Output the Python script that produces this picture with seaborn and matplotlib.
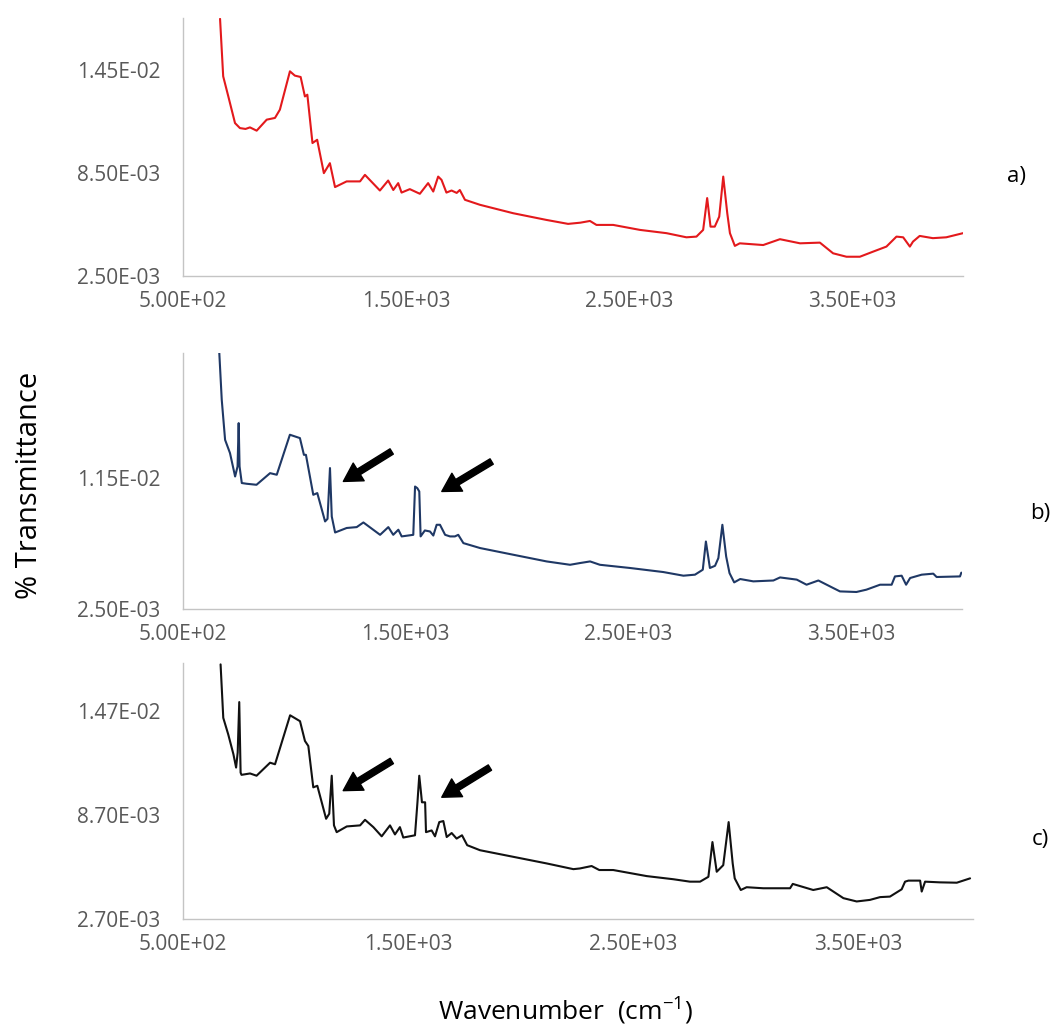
import numpy as np
import pandas as pd
import matplotlib
matplotlib.use("Agg")
import matplotlib.pyplot as plt
import seaborn as sns
from matplotlib.ticker import FixedLocator, FuncFormatter

# ---------------- data ----------------
wn_a = [666, 680, 703, 733, 755, 780, 800, 830, 875, 912, 934, 979, 1001, 1027, 1046, 1057,
        1080, 1101, 1131, 1158, 1181, 1233, 1293, 1315, 1382, 1419, 1442, 1464, 1479, 1516,
        1561, 1598, 1621, 1643, 1658, 1680, 1703, 1726, 1740, 1763, 1830, 1979, 2128, 2225,
        2280, 2323, 2352, 2427, 2547, 2666, 2755, 2800, 2830, 2848, 2863, 2882, 2902, 2920,
        2938, 2950, 2972, 2994, 3099, 3174, 3264, 3353, 3412, 3472, 3532, 3592, 3651, 3696,
        3726, 3756, 3770, 3800, 3859, 3919, 3994]
tr_a = [0.01745, 0.01411, 0.01294, 0.01139, 0.01110, 0.01105, 0.01114, 0.01095, 0.01159, 0.01169,
        0.01217, 0.01440, 0.01415, 0.01407, 0.01294, 0.01304, 0.01023, 0.01042, 0.00848, 0.00906,
        0.00767, 0.00800, 0.00800, 0.00838, 0.00747, 0.00805, 0.00750, 0.00790, 0.00735, 0.00755,
        0.00728, 0.00790, 0.00741, 0.00828, 0.00809, 0.00735, 0.00747, 0.00733, 0.00750, 0.00693,
        0.00664, 0.00615, 0.00576, 0.00553, 0.00560, 0.00570, 0.00547, 0.00547, 0.00518, 0.00499,
        0.00475, 0.00479, 0.00518, 0.00703, 0.00537, 0.00537, 0.00595, 0.00828, 0.00615, 0.00499,
        0.00425, 0.00440, 0.00430, 0.00464, 0.00440, 0.00444, 0.00382, 0.00362, 0.00362, 0.00392,
        0.00421, 0.00479, 0.00475, 0.00421, 0.00450, 0.00483, 0.00470, 0.00475, 0.00499]

wn_b = [663, 674, 689, 711, 734, 745, 750, 754, 764, 786, 830, 891, 921, 980, 1025, 1043, 1052,
        1085, 1103, 1138, 1149, 1160, 1168, 1183, 1235, 1280, 1310, 1385, 1422, 1444, 1467, 1482,
        1534, 1542, 1552, 1561, 1567, 1586, 1609, 1624, 1639, 1654, 1677, 1699, 1721, 1736, 1759,
        1834, 1983, 2133, 2238, 2283, 2328, 2372, 2507, 2657, 2747, 2799, 2834, 2848, 2866, 2889,
        2904, 2922, 2939, 2954, 2975, 3002, 3061, 3151, 3181, 3256, 3300, 3353, 3420, 3450, 3524,
        3569, 3630, 3682, 3697, 3727, 3747, 3765, 3817, 3869, 3884, 3989, 3995]
tr_b = [0.0201, 0.01688, 0.01413, 0.01322, 0.01161, 0.01230, 0.01528, 0.01230, 0.01116, 0.01111,
        0.01104, 0.01184, 0.01173, 0.01448, 0.01425, 0.01310, 0.01310, 0.01035, 0.01047, 0.00852,
        0.00870, 0.01219, 0.00886, 0.00776, 0.00807, 0.00813, 0.00845, 0.00760, 0.00813, 0.00760,
        0.00795, 0.00749, 0.00760, 0.01092, 0.01081, 0.01058, 0.00749, 0.00790, 0.00783, 0.00755,
        0.00829, 0.00829, 0.00760, 0.00749, 0.00749, 0.00760, 0.00703, 0.00669, 0.00623, 0.00577,
        0.00554, 0.00566, 0.00577, 0.00554, 0.00532, 0.00504, 0.00479, 0.00486, 0.00520, 0.00714,
        0.00532, 0.00547, 0.00600, 0.00829, 0.00611, 0.00497, 0.00433, 0.00456, 0.00440, 0.00446,
        0.00467, 0.00452, 0.00417, 0.00446, 0.00394, 0.00371, 0.00367, 0.00383, 0.00417, 0.00417,
        0.00474, 0.00479, 0.00417, 0.00463, 0.00486, 0.00493, 0.00470, 0.00474, 0.00500]

wn_c = [667, 679, 701, 724, 736, 743, 750, 756, 760, 798, 827, 887, 909, 976, 1020, 1042, 1057,
        1079, 1097, 1136, 1150, 1161, 1171, 1183, 1228, 1287, 1309, 1346, 1383, 1420, 1442, 1464,
        1479, 1531, 1542, 1550, 1556, 1562, 1576, 1580, 1605, 1620, 1639, 1657, 1672, 1694, 1716,
        1740, 1763, 1820, 1968, 2116, 2235, 2264, 2316, 2350, 2412, 2561, 2679, 2753, 2798, 2835,
        2853, 2872, 2901, 2925, 2943, 2952, 2979, 3005, 3079, 3198, 3210, 3301, 3361, 3435, 3494,
        3553, 3598, 3642, 3694, 3709, 3724, 3776, 3783, 3798, 3864, 3939, 3998]
tr_c = [0.01736, 0.01428, 0.01333, 0.01219, 0.01142, 0.01228, 0.01519, 0.01113, 0.01100, 0.01108,
        0.01095, 0.01170, 0.01161, 0.01443, 0.01409, 0.01295, 0.01266, 0.01028, 0.01037, 0.00847,
        0.00876, 0.01095, 0.00809, 0.00770, 0.00803, 0.00809, 0.00841, 0.00799, 0.00746, 0.00809,
        0.00757, 0.00799, 0.00739, 0.00752, 0.00942, 0.01095, 0.01020, 0.00942, 0.00942, 0.00770,
        0.00780, 0.00746, 0.00828, 0.00834, 0.00742, 0.00765, 0.00733, 0.00752, 0.00695, 0.00666,
        0.00628, 0.00590, 0.00557, 0.00561, 0.00575, 0.00552, 0.00552, 0.00517, 0.00499, 0.00485,
        0.00485, 0.00513, 0.00713, 0.00542, 0.00580, 0.00828, 0.00590, 0.00504, 0.00437, 0.00453,
        0.00447, 0.00447, 0.00472, 0.00437, 0.00453, 0.00390, 0.00371, 0.00380, 0.00396, 0.00399,
        0.00441, 0.00485, 0.00491, 0.00491, 0.00428, 0.00485, 0.00481, 0.00479, 0.00504]

x_ticks = [500, 1500, 2500, 3500]
y_ticks_a = [0.0025, 0.0085, 0.0145]
y_ticks_b = [0.0025, 0.0115]
y_ticks_c = [0.0027, 0.0087, 0.0147]

# arrow annotations (tail -> head) in data units
arrows_b = [((1437, 0.01333), (1220, 0.01127)), ((1886, 0.01264), (1662, 0.01058))]
arrows_c = [((1428, 0.01180), (1212, 0.01009)), ((1864, 0.01142), (1650, 0.00971))]

# ---------------- style ----------------
sns.set_style("white")
plt.rcParams['font.family'] = ['Open Sans', 'DejaVu Sans']
plt.rcParams['mathtext.fontset'] = 'custom'
plt.rcParams['mathtext.rm'] = 'Open Sans'

W, H = 1054, 1028
fig = plt.figure(figsize=(W / 100, H / 100), dpi=100)

def add_ax(left, top, right, bottom):
    return fig.add_axes([left / W, 1 - bottom / H, (right - left) / W, (bottom - top) / H])

panels = [
    dict(wn=wn_a, tr=tr_a, color='#e3191c', box=(183, 18, 963, 276), xlim=(500, 3994),
         ylim=(0.0025, 0.0175), yt=y_ticks_a, arrows=[]),
    dict(wn=wn_b, tr=tr_b, color='#1f3865', box=(183, 353, 962, 609), xlim=(500, 3998),
         ylim=(0.0025, 0.0201), yt=y_ticks_b, arrows=arrows_b),
    dict(wn=wn_c, tr=tr_c, color='#111111', box=(183, 663, 973, 919), xlim=(500, 4011),
         ylim=(0.0027, 0.01744), yt=y_ticks_c, arrows=arrows_c),
]

sci = FuncFormatter(lambda v, p: '{:.2E}'.format(v))
gray = '#595959'

for p in panels:
    ax = add_ax(*p['box'])
    df = pd.DataFrame({'wavenumber': p['wn'], 'transmittance': p['tr']})
    sns.lineplot(data=df, x='wavenumber', y='transmittance', ax=ax, color=p['color'],
                 linewidth=1.5, estimator=None, sort=False)
    ax.set_xlim(*p['xlim'])
    ax.set_ylim(*p['ylim'])
    ax.xaxis.set_major_locator(FixedLocator(x_ticks))
    ax.yaxis.set_major_locator(FixedLocator(p['yt']))
    ax.xaxis.set_major_formatter(sci)
    ax.yaxis.set_major_formatter(sci)
    ax.set_xlabel('')
    ax.set_ylabel('')
    for s in ['top', 'right']:
        ax.spines[s].set_visible(False)
    for s in ['left', 'bottom']:
        ax.spines[s].set_color('#c4c4c4')
        ax.spines[s].set_linewidth(1.0)
    ax.tick_params(axis='both', direction='in', length=5, width=1, color='#c4c4c4',
                   labelsize=15, labelcolor=gray)
    ax.tick_params(axis='y', pad=16.5)
    ax.tick_params(axis='x', pad=11)
    for tail, head in p['arrows']:
        ax.annotate('', xy=head, xytext=tail,
                    arrowprops=dict(facecolor='black', edgecolor='black', width=4.5,
                                    headwidth=15, headlength=13, shrink=0))

fig.text(1016 / W, 1 - 176 / H, 'a)', fontsize=16, ha='center', va='center', color='black')
fig.text(1040 / W, 1 - 513 / H, 'b)', fontsize=16, ha='center', va='center', color='black')
fig.text(1040 / W, 1 - 840 / H, 'c)', fontsize=16, ha='center', va='center', color='black')
fig.text(30 / W, 1 - 485 / H, '% Transmittance', fontsize=21, rotation=90,
         ha='center', va='center', color='black')
fig.text(565 / W, 1 - 1010 / H, r'Wavenumber  (cm$^{\mathregular{-1}}$)', fontsize=19,
         ha='center', va='center', color='black')

fig.savefig('out.png', dpi=100, facecolor='white')
